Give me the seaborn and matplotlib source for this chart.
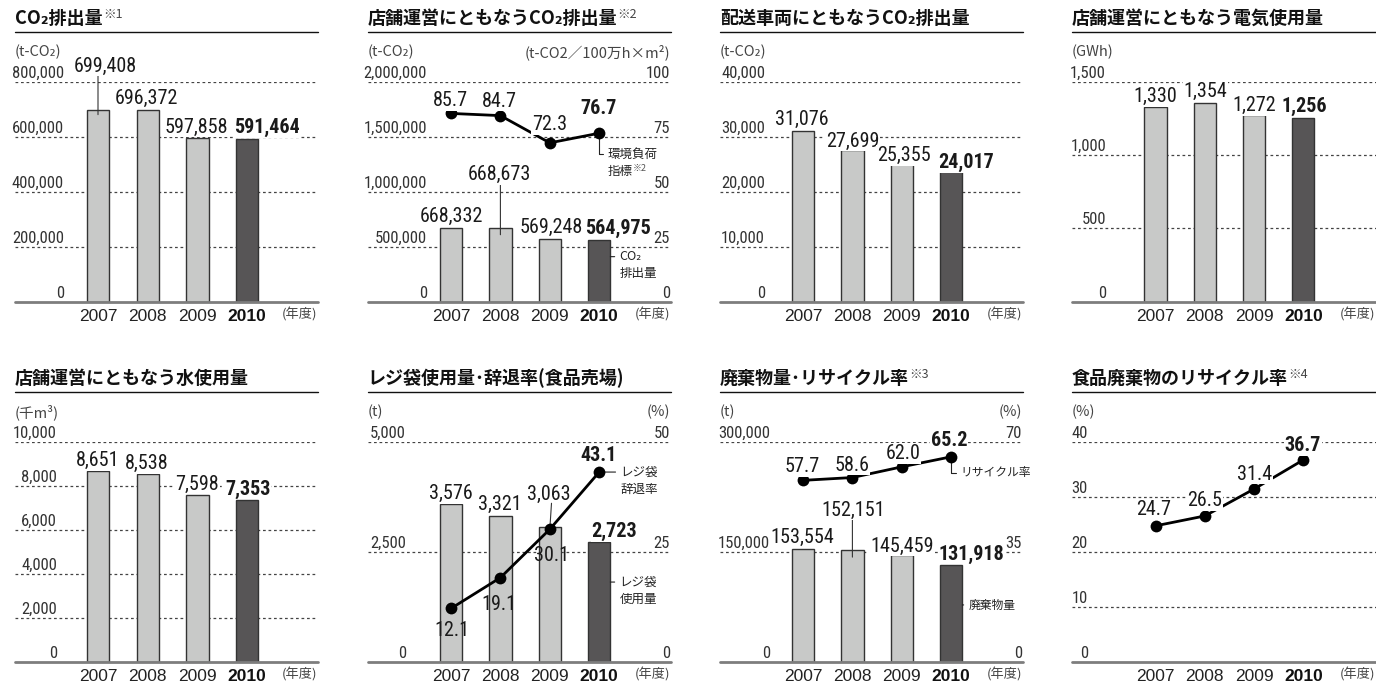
import numpy as np
import pandas as pd
import matplotlib
matplotlib.use("Agg")
import matplotlib.pyplot as plt
from matplotlib.lines import Line2D
from matplotlib.transforms import offset_copy
from matplotlib import font_manager as fm
import seaborn as sns

# ---------------- data ----------------
YEARS = ["2007", "2008", "2009", "2010"]
co2_total = [699408, 696372, 597858, 591464]
store_co2 = [668332, 668673, 569248, 564975]
store_index = [85.7, 84.7, 72.3, 76.7]
vehicle_co2 = [31076, 27699, 25355, 24017]
electricity = [1330, 1354, 1272, 1256]
water = [8651, 8538, 7598, 7353]
bag_usage = [3576, 3321, 3063, 2723]
bag_decline = [12.1, 19.1, 30.1, 43.1]
waste = [153554, 152151, 145459, 131918]
waste_recycle = [57.7, 58.6, 62.0, 65.2]
food_recycle = [24.7, 26.5, 31.4, 36.7]

co2_ticks = [0, 200000, 400000, 600000, 800000]
store_co2_ticks = [0, 500000, 1000000, 1500000, 2000000]
store_index_ticks = [0, 25, 50, 75, 100]
vehicle_ticks = [0, 10000, 20000, 30000, 40000]
elec_ticks = [0, 500, 1000, 1500]
water_ticks = [0, 2000, 4000, 6000, 8000, 10000]
bag_ticks = [0, 2500, 5000]
bag_rate_ticks = [0, 25, 50]
waste_ticks = [0, 150000, 300000]
waste_rate_ticks = [0, 35, 70]
food_ticks = [0, 10, 20, 30, 40]

# ---------------- style ----------------
sns.set_theme(style="white")
CJK = ["Noto Sans CJK JP", "DejaVu Sans"]
plt.rcParams["font.family"] = CJK


def pick_condensed():
    cands = [("Liberation Sans Narrow", "normal", False),
             ("Roboto Condensed", "normal", False),
             ("Open Sans Condensed", "normal", False),
             ("Noto Sans", "condensed", True),
             ("Open Sans", "condensed", True),
             ("Roboto", "condensed", True),
             ("DejaVu Sans", "condensed", True)]
    for fam, st, need in cands:
        try:
            p = fm.findfont(fm.FontProperties(family=fam, stretch=st),
                            fallback_to_default=False)
        except Exception:
            continue
        if need and not any(k in p.lower() for k in ("cond", "narrow")):
            continue
        return fam, st
    return "Liberation Sans", "normal"


NUM, NUM_ST = pick_condensed()
COND = NUM != "Liberation Sans"
NS = 1.0 if COND else 0.85
YR = "Liberation Sans"

W, H = 1376, 689
ROWS = [dict(title=18.5, rule=32.3, unit=52, top=82, base=301.7),
        dict(title=378.5, rule=392.3, unit=412, top=441.7, base=661.7)]
COLS = [dict(L=15, R=318, c0=98, s=49.7),
        dict(L=367.5, R=671, c0=451, s=49.4),
        dict(L=720, R=1023, c0=803, s=49.4),
        dict(L=1071.5, R=1376, c0=1155.5, s=49.3)]

BAR_W = 0.45
LIGHT = "#c8c9c8"
DARK = "#575556"
EDGE = "#333333"
GRID = "#444444"
BASE = "#7d7d7d"
TXT = "#1a1a1a"
SUB = "#444444"

fig = plt.figure(figsize=(W / 100, H / 100), dpi=100)
fig.patch.set_facecolor("white")


def setup(ci, ri, title, note, ticks, edge, unit, runit=None):
    col, row = COLS[ci], ROWS[ri]
    L, R = col["L"], col["R"]
    ax = fig.add_axes([L / W, 1 - row["base"] / H, (R - L) / W,
                       (row["base"] - row["top"]) / H])
    ax.set_facecolor("white")
    t = fig.text(L / W, 1 - row["title"] / H, title, fontsize=13,
                 fontweight="bold", color="#111111", va="center", ha="left")
    if note:
        ax.annotate(note, xy=(1, 0.7), xycoords=t, xytext=(0.5, 0),
                    textcoords="offset pixels", fontsize=9, color="#444444",
                    va="center", ha="left", annotation_clip=False)
    fig.add_artist(Line2D([L / W, R / W], [1 - row["rule"] / H] * 2,
                          color="#111111", lw=1.0, transform=fig.transFigure))
    fig.text(L / W, 1 - row["unit"] / H, unit, fontsize=10.5, color=SUB,
             va="center", ha="left")
    if runit:
        fig.text(R / W - 1 / W, 1 - row["unit"] / H, runit, fontsize=10.5,
                 color=SUB, va="center", ha="right")
    for tv in ticks[1:]:
        ax.axhline(tv, color=GRID, lw=0.9, ls=(0, (2.2, 2.2)), zorder=0.5)
    ax.axhline(0, color=BASE, lw=2.0, zorder=5, clip_on=False)
    tick_labels(ax, ticks, edge, ci)
    ax._ymax = ticks[-1]
    return ax


def tick_labels(ax, ticks, edge, ci):
    L, R = COLS[ci]["L"], COLS[ci]["R"]
    for tv in ticks:
        ax.annotate(f"{tv:,}", xy=((edge - L) / (R - L), tv),
                    xycoords=ax.get_yaxis_transform(), xytext=(0, 4),
                    textcoords="offset pixels", ha="right", va="baseline",
                    fontsize=12 * NS, family=NUM, fontstretch=NUM_ST,
                    color="#333333", annotation_clip=False)


def bars(ax, vals):
    df = pd.DataFrame({"year": YEARS, "value": vals})
    sns.barplot(data=df, x="year", y="value", hue="year",
                palette=[LIGHT, LIGHT, LIGHT, DARK], dodge=False, width=BAR_W,
                saturation=1, edgecolor=EDGE, linewidth=1.0, errorbar=None,
                legend=False, ax=ax, zorder=2)


def line(ax, vals):
    sns.lineplot(x=np.arange(len(vals)), y=vals, ax=ax, color="black",
                 linewidth=2.0, marker="o", markersize=8.5,
                 markeredgewidth=0, zorder=4)


def twin(ax, ticks, edge, ci):
    ax2 = ax.twinx()
    tick_labels(ax2, ticks, edge, ci)
    ax2._ymax = ticks[-1]
    return ax2


def labels(ax, vals, offsets, fmt, box=True):
    for i, (v, (dx, dy)) in enumerate(zip(vals, offsets)):
        ax.annotate(fmt.format(v), xy=(i, v), xytext=(dx, dy - 1.5),
                    textcoords="offset pixels", ha="center", va="center",
                    fontsize=14.5 * NS, family=NUM, fontstretch=NUM_ST,
                    color=TXT, fontweight="bold" if i == 3 else "normal",
                    bbox=dict(fc="white", ec="none", pad=0.6) if box else None,
                    annotation_clip=False, zorder=6)


def leader(ax, x, y, down, up):
    ax.annotate("", xy=(x, y),
                xycoords=offset_copy(ax.transData, x=0, y=-down, units="dots"),
                xytext=(0, up + down), textcoords="offset pixels",
                arrowprops=dict(arrowstyle="-", color="#333333", lw=0.8,
                                shrinkA=0, shrinkB=0),
                annotation_clip=False)


def callout(ax, text, xy, off, xycoords="data", bracket=False, size=9,
            second=None, note=None):
    cs = "angle,angleA=0,angleB=90,rad=0" if bracket else "arc3"
    ax.annotate(text, xy=xy, xycoords=xycoords, xytext=off,
                textcoords="offset pixels", ha="left", va="center",
                fontsize=size, color="#222222",
                arrowprops=dict(arrowstyle="-", color="#222222", lw=0.8,
                                shrinkA=1, shrinkB=0, connectionstyle=cs,
                                relpos=(0, 0.5)),
                annotation_clip=False)
    if second:
        t2 = ax.annotate(second, xy=xy, xycoords=xycoords,
                         xytext=(off[0], off[1] - 17), textcoords="offset pixels",
                         ha="left", va="center", fontsize=size, color="#222222",
                         annotation_clip=False)
        if note:
            ax.annotate(note, xy=(1, 0.7), xycoords=t2, xytext=(0.5, 0),
                        textcoords="offset pixels", fontsize=6.5,
                        color="#555555", ha="left", va="center",
                        annotation_clip=False)


def finish(ax, ci, ax2=None):
    c = COLS[ci]
    ax.set_xlim((c["L"] - c["c0"]) / c["s"], (c["R"] - c["c0"]) / c["s"])
    ax.set_ylim(0, ax._ymax)
    ax.set_xticks(range(4))
    ax.set_xticklabels(YEARS)
    ax.tick_params(axis="x", length=0, pad=5.0, labelsize=12.5, colors="#222222")
    for k, lb in enumerate(ax.get_xticklabels()):
        lb.set_fontfamily(YR)
        if k == 3:
            lb.set_fontweight("bold")
            lb.set_color("#111111")
    ax.set_yticks([])
    ax.set_xlabel("")
    ax.set_ylabel("")
    for sp in ax.spines.values():
        sp.set_visible(False)
    ax.annotate("(年度)", xy=(1, 0), xycoords="axes fraction", xytext=(-1, -13),
                textcoords="offset pixels", ha="right", va="center",
                fontsize=9.5, color=SUB, annotation_clip=False)
    if ax2 is not None:
        ax2.set_ylim(0, ax2._ymax)
        ax2.set_yticks([])
        ax2.set_ylabel("")
        for sp in ax2.spines.values():
            sp.set_visible(False)


# ---------- 1: CO2排出量 ----------
ax = setup(0, 0, "CO₂排出量", "※1", co2_ticks, 64, "(t-CO₂)")
bars(ax, co2_total)
labels(ax, co2_total, [(7.5, 45), (-1, 14), (-1, 12), (19.5, 13)], "{:,}")
leader(ax, 0, co2_total[0], 5, 35)
finish(ax, 0)

# ---------- 2: 店舗運営CO2 ----------
ax = setup(1, 0, "店舗運営にともなうCO₂排出量", "※2", store_co2_ticks, 427,
           "(t-CO₂)", "(t-CO2／100万h×m²)")
bars(ax, store_co2)
ax2 = twin(ax, store_index_ticks, 670, 1)
line(ax2, store_index)
labels(ax, store_co2, [(0, 13.5), (-1, 55), (1.5, 13), (18.5, 13)], "{:,}")
leader(ax, 1, store_co2[1], 6.5, 43)
labels(ax2, store_index, [(-1, 14), (-1, 16), (0, 19.5), (-0.5, 26)], "{:.1f}")
callout(ax2, "環境負荷", (3, store_index[3]), (8, -21), bracket=True,
        second="指標", note="※2")
callout(ax, "CO₂", (3 + BAR_W / 2, 0.205), (9, 0),
        xycoords=("data", "axes fraction"), second="排出量")
finish(ax, 1, ax2)

# ---------- 3: 配送車両CO2 ----------
ax = setup(2, 0, "配送車両にともなうCO₂排出量", None, vehicle_ticks, 765, "(t-CO₂)")
bars(ax, vehicle_co2)
labels(ax, vehicle_co2, [(-1, 13.5), (0.5, 10), (2, 8.5), (15, 9)], "{:,}")
finish(ax, 2)

# ---------- 4: 電気使用量 ----------
ax = setup(3, 0, "店舗運営にともなう電気使用量", None, elec_ticks, 1106, "(GWh)")
bars(ax, electricity)
labels(ax, electricity, [(-0.5, 12), (0.5, 13), (0, 11.5), (0.5, 13)], "{:,}")
finish(ax, 3)

# ---------- 5: 水使用量 ----------
ax = setup(0, 1, "店舗運営にともなう水使用量", None, water_ticks, 57, "(千m³)")
bars(ax, water)
labels(ax, water, [(0, 12), (-1, 12), (-0.5, 12), (0.5, 12.5)], "{:,}")
finish(ax, 0)

# ---------- 6: レジ袋 ----------
ax = setup(1, 1, "レジ袋使用量･辞退率(食品売場)", None, bag_ticks, 406, "(t)", "(%)")
bars(ax, bag_usage)
ax2 = twin(ax, bag_rate_ticks, 670, 1)
line(ax2, bag_decline)
labels(ax, bag_usage, [(-0.3, 12), (-1, 13), (-1, 34), (15, 12)], "{:,}")
labels(ax2, bag_decline, [(0.7, -21), (-1, -25), (2, -25), (-0.5, 18.5)],
       "{:.1f}", box=False)
ax2.annotate("", xy=(2, bag_decline[2]), xytext=(1.7, 26),
             textcoords="offset pixels",
             arrowprops=dict(arrowstyle="-", color="#333333", lw=0.8,
                             shrinkA=0, shrinkB=0))
callout(ax2, "レジ袋", (3, bag_decline[3]), (21, 0), second="辞退率")
callout(ax, "レジ袋", (3 + BAR_W / 2, 0.362), (9, 0),
        xycoords=("data", "axes fraction"), second="使用量")
finish(ax, 1, ax2)

# ---------- 7: 廃棄物量・リサイクル率 ----------
ax = setup(2, 1, "廃棄物量･リサイクル率", "※3", waste_ticks, 770, "(t)", "(%)")
bars(ax, waste)
ax2 = twin(ax, waste_rate_ticks, 1022, 2)
line(ax2, waste_recycle)
labels(ax, waste, [(-0.5, 13.5), (0.5, 41.5), (0, 10.5), (20, 12.5)], "{:,}")
leader(ax, 1, waste[1], 7, 30)
labels(ax2, waste_recycle, [(-0.5, 15), (-0.5, 14), (1, 15), (-2, 18)], "{:.1f}")
callout(ax2, "リサイクル率", (3, waste_recycle[3]), (9, -16), bracket=True, size=8.5)
callout(ax, "廃棄物量", (3 + BAR_W / 2, 0.258), (6, 0),
        xycoords=("data", "axes fraction"), size=8.5)
finish(ax, 2, ax2)

# ---------- 8: 食品廃棄物のリサイクル率 ----------
ax = setup(3, 1, "食品廃棄物のリサイクル率", "※4", food_ticks, 1088, "(%)")
line(ax, food_recycle)
labels(ax, food_recycle, [(-2, 18), (0, 16.5), (0.5, 16.5), (-0.5, 15.4)], "{:.1f}")
finish(ax, 3)

fig.savefig("out.png", dpi=100, facecolor="white")
